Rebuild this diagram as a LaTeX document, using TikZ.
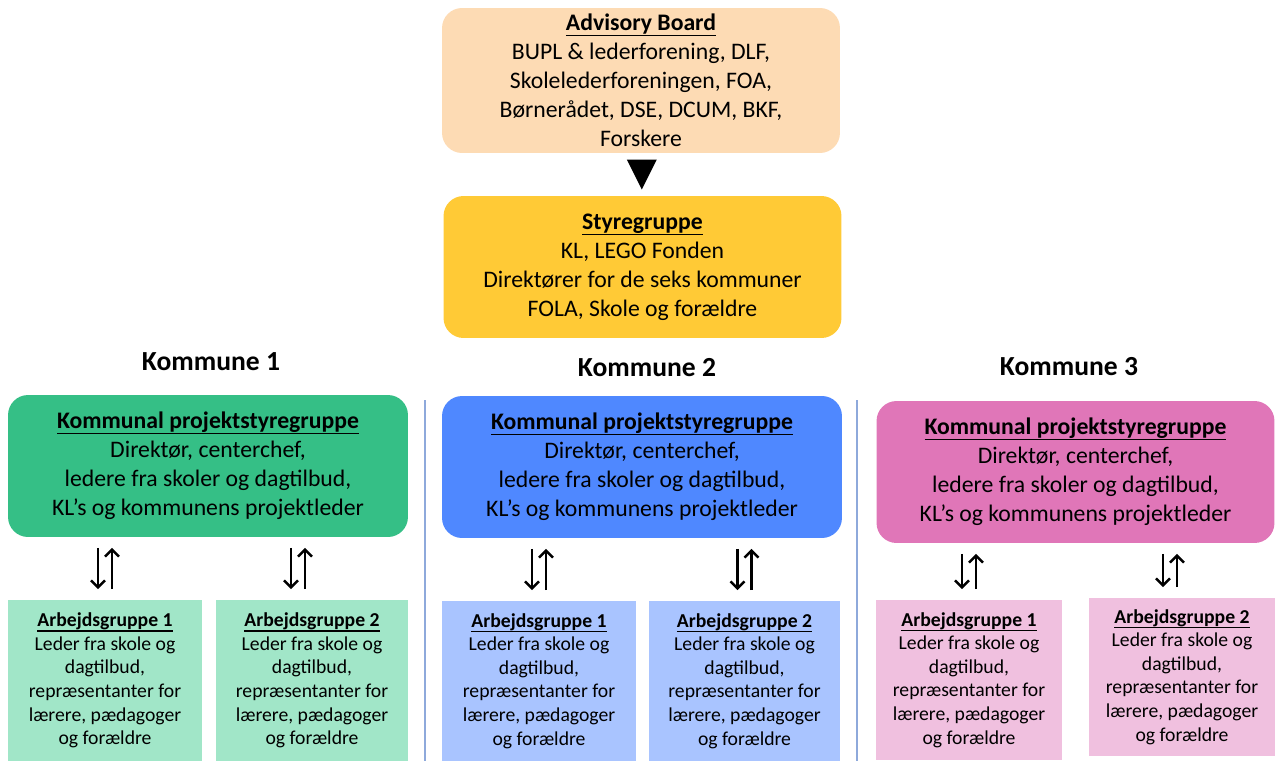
\documentclass[tikz,border=0pt]{standalone}
\usepackage{fontspec}
\setmainfont{Carlito}
\usetikzlibrary{arrows.meta,calc}

\definecolor{advpeach}{HTML}{FDDBB4}
\definecolor{styyellow}{HTML}{FFCA36}
\definecolor{komgreen}{HTML}{35BF86}
\definecolor{komblue}{HTML}{4F88FF}
\definecolor{kompink}{HTML}{E076B8}
\definecolor{arbgreen}{HTML}{A1E6C8}
\definecolor{arbblue}{HTML}{A9C4FF}
\definecolor{arbpink}{HTML}{F0C0DF}
\definecolor{skillelinje}{HTML}{8EA9DB}

\newsavebox{\titelboks}
\newcommand{\overskrift}[1]{\sbox{\titelboks}{\textbf{#1}}%
    \rlap{\usebox{\titelboks}}\rule[-0.24em]{\wd\titelboks}{0.06em}}
\newcommand{\arbtekst}[1]{\overskrift{Arbejdsgruppe #1}\\Leder fra skole og\\dagtilbud,\\repræsentanter for\\lærere, pædagoger\\og forældre}
\newcommand{\komtekst}{\overskrift{Kommunal projektstyregruppe}\\Direktør, centerchef,\\ledere fra skoler og dagtilbud,\\KL’s og kommunens projektleder}
% arrow pair between a kommune box and a work group box
\newcommand{\pilpar}[3]{%
    \draw[pil] ($(#1.south -| #2.north)+(#3-7,0)$) -- ($(#2.north)+(#3-7,0)$);
    \draw[pil] ($(#2.north)+(#3+7,0)$) -- ($(#1.south -| #2.north)+(#3+7,0)$);}

\begin{document}
\begin{tikzpicture}[x=0.02cm, y=-0.02cm,
    bigbox/.style={rounded corners=0.4cm, align=center, inner sep=0pt,
        minimum width=7.96cm, minimum height=2.84cm,
        font=\fontsize{13.5}{16.5}\selectfont},
    smallbox/.style={align=center, inner sep=0pt,
        minimum width=3.86cm, minimum height=3.2cm,
        font=\fontsize{11.2}{13.4}\selectfont},
    kommune/.style={font=\fontsize{15.7}{19}\selectfont\bfseries},
    pil/.style={line width=1.4pt, -{Straight Barb[length=4pt,width=8pt]},
        shorten <=0.21cm, shorten >=0.21cm}]
    \useasboundingbox (0,0) rectangle (1275,761);

    % Top: advisory board and steering group
    \node[bigbox, fill=advpeach, minimum height=2.9cm] (adv) at (641,80.5)
        {\overskrift{Advisory Board}\\BUPL \& lederforening, DLF,\\Skolelederforeningen, FOA,\\Børnerådet, DSE, DCUM, BKF,\\Forskere};
    \node[bigbox, fill=styyellow] (sty) at (642.5,267)
        {\overskrift{Styregruppe}\\KL, LEGO Fonden\\Direktører for de seks kommuner\\FOLA, Skole og forældre};
    \coordinate (tri) at ($(adv.south)!0.5!(sty.north)$);
    \fill (tri) ++(-15,-15) -- ++(30,0) -- ++(-15,30) -- cycle;

    % Kommune headings
    \node[kommune] (kom1) at (211,362) {Kommune 1};
    \node[kommune] (kom2) at (647,368) {Kommune 2};
    \node[kommune] (kom3) at (1069,367) {Kommune 3};

    % Separators
    \draw[skillelinje, line width=0.6pt] (425,400) -- (425,761);
    \draw[skillelinje, line width=0.6pt] (857,400) -- (857,761);

    % Kommunal projektstyregrupper
    \node[bigbox, fill=komgreen, minimum width=8cm] (k1) at (208,466) {\komtekst};
    \node[bigbox, fill=komblue, minimum width=8cm] (k2) at (642,467) {\komtekst};
    \node[bigbox, fill=kompink] (k3) at (1075.5,472) {\komtekst};

    % Arbejdsgrupper
    \node[smallbox, fill=arbgreen, minimum width=3.88cm, minimum height=3.22cm] (g1) at (105,680.5) {\arbtekst{1}};
    \node[smallbox, fill=arbgreen, minimum width=3.84cm, minimum height=3.22cm] (g2) at (312,680.5) {\arbtekst{2}};
    \node[smallbox, fill=arbblue, minimum width=3.88cm] (b1) at (539,681) {\arbtekst{1}};
    \node[smallbox, fill=arbblue, minimum width=3.82cm] (b2) at (744.5,681) {\arbtekst{2}};
    \node[smallbox, fill=arbpink, minimum width=3.72cm] (p1) at (969,680) {\arbtekst{1}};
    \node[smallbox, fill=arbpink, minimum width=3.72cm, minimum height=3.16cm] (p2) at (1182,677) {\arbtekst{2}};

    % Arrows
    \pilpar{k1}{g1}{0}
    \pilpar{k1}{g2}{-14}
    \pilpar{k2}{b1}{0}
    \pilpar{k2}{b2}{0}
    \pilpar{k3}{p1}{0}
    \pilpar{k3}{p2}{-12}
\end{tikzpicture}
\end{document}
